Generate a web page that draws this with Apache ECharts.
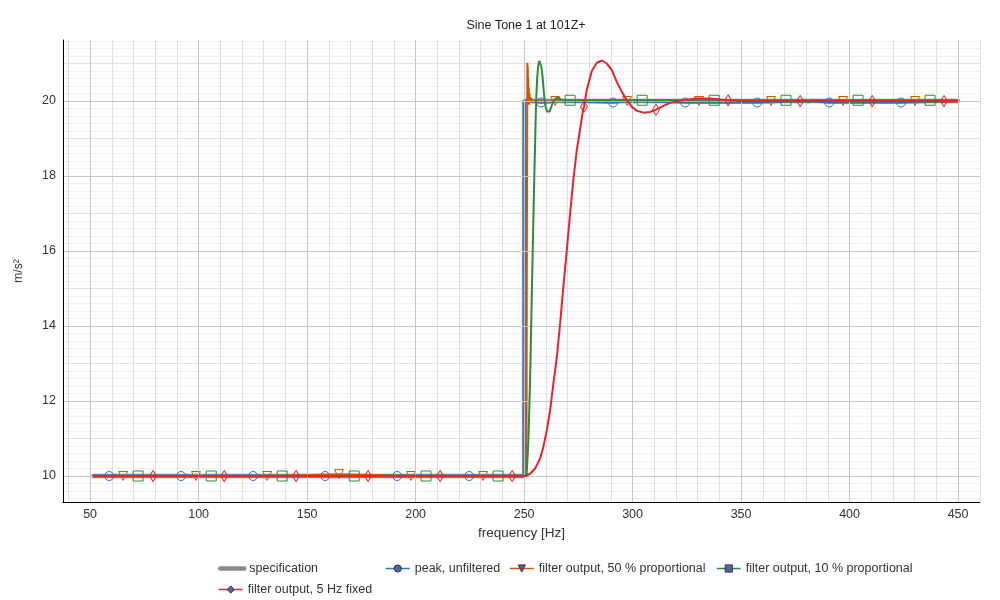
<!DOCTYPE html>
<html><head><meta charset="utf-8">
<script src="https://cdn.jsdelivr.net/npm/echarts@6/dist/echarts.min.js"></script>
<style>html,body{margin:0;padding:0;background:#fff}#c{width:1000px;height:600px}</style>
</head><body><div id="c"></div>
<script>
// ---- axis ticks ----
const X_MIN = 37.5, X_MAX = 460.1;
const Y_MIN = 9.307, Y_MAX = 21.627;
const xMajorTicks = [50, 100, 150, 200, 250, 300, 350, 400, 450];
const yMajorTicks = [10, 12, 14, 16, 18, 20];

// ---- series names ----
const names = ['specification', 'peak, unfiltered', 'filter output, 50 % proportional',
  'filter output, 10 % proportional', 'filter output, 5 Hz fixed'];

// ---- specification ----
const specCurve = [[51.5, 10], [250.0, 10], [250.0, 20], [450, 20]];

// ---- peak, unfiltered ----
const peakCurve = [[51.5, 10], [250.15, 10], [250.2, 15], [250.25, 20], [262, 19.97], [263, 20],
  [300, 20], [301, 19.97], [302, 20], [380, 20], [381, 19.97], [382, 20], [450, 20]];
const peakMarks = [[58.8, 10], [91.9, 10], [125.1, 10], [158.3, 10], [191.5, 10], [224.7, 10],
  [257.8, 19.96], [291.0, 19.96], [324.2, 19.96], [357.4, 19.96], [390.6, 19.96], [423.7, 19.96]];

// ---- filter output, 50 % proportional ----
const p50Curve = [[51.5, 10], [251.05, 10], [251.1, 11], [251.2, 14], [251.3, 17], [251.4, 19],
  [251.5, 21.02], [251.6, 20.3], [251.7, 20.9], [251.8, 20.2], [251.9, 20.6], [252.0, 20.05],
  [252.15, 20.35], [252.3, 19.9], [252.5, 20.2], [252.8, 19.95], [253.2, 20.08], [254, 19.97],
  [256, 20.02], [260, 19.98], [450, 19.98]];
const p50Marks = [[65.2, 10], [98.8, 10], [131.6, 10], [164.7, 10.05], [197.9, 10], [231.1, 10],
  [264.3, 20], [297.5, 20], [330.6, 20], [363.8, 20], [397.0, 20], [430.2, 20]];

// ---- filter output, 10 % proportional ----
const p10Curve = [[51.5, 10], [251.0, 10], [251.3, 10.2], [251.7, 10.6], [252.0, 11.0], [252.3, 11.6],
  [252.8, 12.7], [253.2, 13.8], [253.6, 15.0], [254.0, 16.1], [254.4, 17.2], [254.8, 18.2], [255.2, 19.2],
  [255.6, 20.1], [256.0, 20.6], [256.5, 20.95], [257.0, 21.07], [257.5, 21.05], [258.0, 20.9],
  [258.5, 20.65], [259.0, 20.3], [259.5, 20.0], [260.0, 19.82], [260.6, 19.72], [261.2, 19.68],
  [261.8, 19.72], [262.5, 19.84], [263.3, 19.97], [264.3, 20.06], [265.5, 20.09], [266.8, 20.05],
  [268, 20.02], [450, 20.02]];
const p10Marks = [[72.1, 10], [105.8, 10], [138.5, 10], [171.7, 10], [204.8, 10], [238.0, 10],
  [271.2, 20.02], [304.4, 20.02], [337.6, 20.02], [370.7, 20.02], [403.9, 20.02], [437.1, 20.02]];

// ---- filter output, 5 Hz fixed ----
const f5Curve = [[51.5, 10], [250.5, 10], [252.8, 10.06], [255.1, 10.2], [257.4, 10.47], [258.9, 10.78],
  [260.5, 11.23], [262.0, 11.76], [263.5, 12.47], [265.1, 13.18], [266.6, 14.07], [268.1, 15.05],
  [269.7, 16.03], [271.2, 17.0], [272.7, 17.9], [274.3, 18.7], [275.8, 19.25], [277.0, 19.7],
  [278.9, 20.3], [281.2, 20.8], [283.5, 21.02], [285.8, 21.08], [288.1, 21.0], [290.4, 20.83],
  [292.7, 20.51], [295.0, 20.25], [297.3, 20.03], [299.6, 19.85], [301.9, 19.74], [305.0, 19.69],
  [308.1, 19.71], [311.2, 19.77], [314.2, 19.87], [317.3, 19.95], [320.4, 19.99], [323.4, 20.02],
  [329.5, 20.07], [335.7, 20.07], [343.4, 20.02], [350, 20.0], [450, 20.0]];
const f5Marks = [[79.0, 10], [111.8, 10], [144.9, 10], [178.1, 10], [211.3, 10], [244.5, 10],
  [277.6, 19.85], [310.8, 19.77], [344.0, 20.02], [377.2, 20], [410.4, 20], [443.5, 20]];

// ---- styles ----
const FONT = 'Liberation Sans, Arial, Helvetica, sans-serif';
const C_SPEC = '#8a8a8a', C_BLUE = '#2f6fc0', C_ORANGE = '#c9580a', C_GREEN = '#2e8a3c', C_RED = '#e3262b';
const GRID_DARK = '#c6c6c6', GRID_MID = '#e0e0e0', GRID_FAINT = '#f1f1f1';

// gridline positions (decorative)
const xMidTicks = [], yMidTicks = [], yFaintTicks = [];
for (let v = 40; v <= 460; v += 10) if (v % 50 !== 0) xMidTicks.push(v);
for (let v = 11; v <= 21; v += 2) yMidTicks.push(v);
for (let k = 47; k <= 108; k++) { if (k % 5 !== 0) yFaintTicks.push(+(k * 0.2).toFixed(1)); }

function buildData(curve, marks) {
  const pts = curve.map(p => ({ value: p, symbol: 'none' })).concat(marks.map(p => ({ value: p })));
  pts.sort((a, b) => a.value[0] - b.value[0]);
  return pts;
}

function gridAxis(min, max, ticks, color) {
  return {
    type: 'value', min: min, max: max, show: true,
    axisLine: { show: false }, axisLabel: { show: false, customValues: ticks },
    axisTick: { show: false, customValues: ticks },
    splitLine: { show: true, lineStyle: { color: color, width: 1 } }
  };
}

const markerSeries = (name, curve, marks, color, symbol, size, rotate, z, lw) => ({
  name: name, type: 'line', data: buildData(curve, marks), symbol: symbol, symbolSize: size,
  symbolRotate: rotate || 0, showAllSymbol: true, z: z,
  lineStyle: { color: color, width: lw || 2 },
  itemStyle: { color: 'rgba(255,255,255,0)', borderColor: color, borderWidth: 1 },
  emphasis: { disabled: true }, animation: false
});

const legendCommon = {
  orient: 'horizontal', itemWidth: 24, itemHeight: 9, itemGap: 8, selectedMode: false, padding: 0,
  textStyle: { fontSize: 12.5, color: '#333', fontFamily: FONT },
  itemStyle: { color: '#5b6196', borderColor: '#2e3358', borderWidth: 1 },
  lineStyle: { width: 1.5 }
};
const mkLegend = (left, top, item) => Object.assign({}, legendCommon, { left: left, top: top, data: [item] });

const chart = echarts.init(document.getElementById('c'));
chart.setOption({
  backgroundColor: '#fff',
  animation: false,
  title: {
    text: 'Sine Tone 1 at 101Z+', left: 521, top: 14, textAlign: 'center',
    textStyle: { fontSize: 12.5, fontWeight: 'normal', color: '#222', fontFamily: FONT }
  },
  grid: { left: 63, right: 20, top: 40, bottom: 98 },
  xAxis: [
    {
      type: 'value', min: X_MIN, max: X_MAX, name: 'frequency [Hz]', nameLocation: 'middle', nameGap: 23,
      nameTextStyle: { fontSize: 13.5, color: '#333', fontFamily: FONT },
      axisLine: { show: true, onZero: false, lineStyle: { color: '#000', width: 1 } },
      axisTick: { show: false, customValues: xMajorTicks },
      axisLabel: { customValues: xMajorTicks, margin: 6, fontSize: 12.5, color: '#333', fontFamily: FONT },
      splitLine: { show: true, lineStyle: { color: GRID_DARK, width: 1 } }, z: 5
    },
    gridAxis(X_MIN, X_MAX, xMidTicks, GRID_MID)
  ],
  yAxis: [
    {
      type: 'value', min: Y_MIN, max: Y_MAX, name: 'm/s²', nameLocation: 'middle', nameGap: 38,
      nameTextStyle: { fontSize: 12, color: '#333', fontFamily: FONT },
      axisLine: { show: true, onZero: false, lineStyle: { color: '#000', width: 1 } },
      axisTick: { show: false, customValues: yMajorTicks },
      axisLabel: { customValues: yMajorTicks, margin: 7, fontSize: 12.5, color: '#333', fontFamily: FONT },
      splitLine: { show: true, lineStyle: { color: GRID_DARK, width: 1 } }, z: 5
    },
    gridAxis(Y_MIN, Y_MAX, yMidTicks, GRID_MID),
    gridAxis(Y_MIN, Y_MAX, yFaintTicks, GRID_FAINT)
  ],
  legend: [
    mkLegend(218, 562, { name: names[0], itemStyle: { color: 'rgba(0,0,0,0)', borderWidth: 0, borderColor: 'rgba(0,0,0,0)' },
      lineStyle: { width: 4.5, cap: 'round' } }),
    mkLegend(218, 583, { name: names[4] }),
    mkLegend(385, 562, { name: names[1] }),
    mkLegend(509, 562, { name: names[2] }),
    mkLegend(716, 562, { name: names[3] })
  ],
  series: [
    {
      name: names[0], type: 'line', data: specCurve, symbol: 'none', z: 2,
      lineStyle: { color: C_SPEC, width: 4.5, cap: 'round' }, itemStyle: { color: C_SPEC },
      emphasis: { disabled: true }, animation: false
    },
    markerSeries(names[1], peakCurve, peakMarks, C_BLUE, 'circle', 9, 0, 3, 2.5),
    markerSeries(names[2], p50Curve, p50Marks, C_ORANGE, 'triangle', 9, 180, 4),
    markerSeries(names[3], p10Curve, p10Marks, C_GREEN, 'rect', 10, 0, 5),
    markerSeries(names[4], f5Curve, f5Marks, C_RED, 'diamond', [7, 11], 0, 6)
  ]
});
</script>
</body></html>
